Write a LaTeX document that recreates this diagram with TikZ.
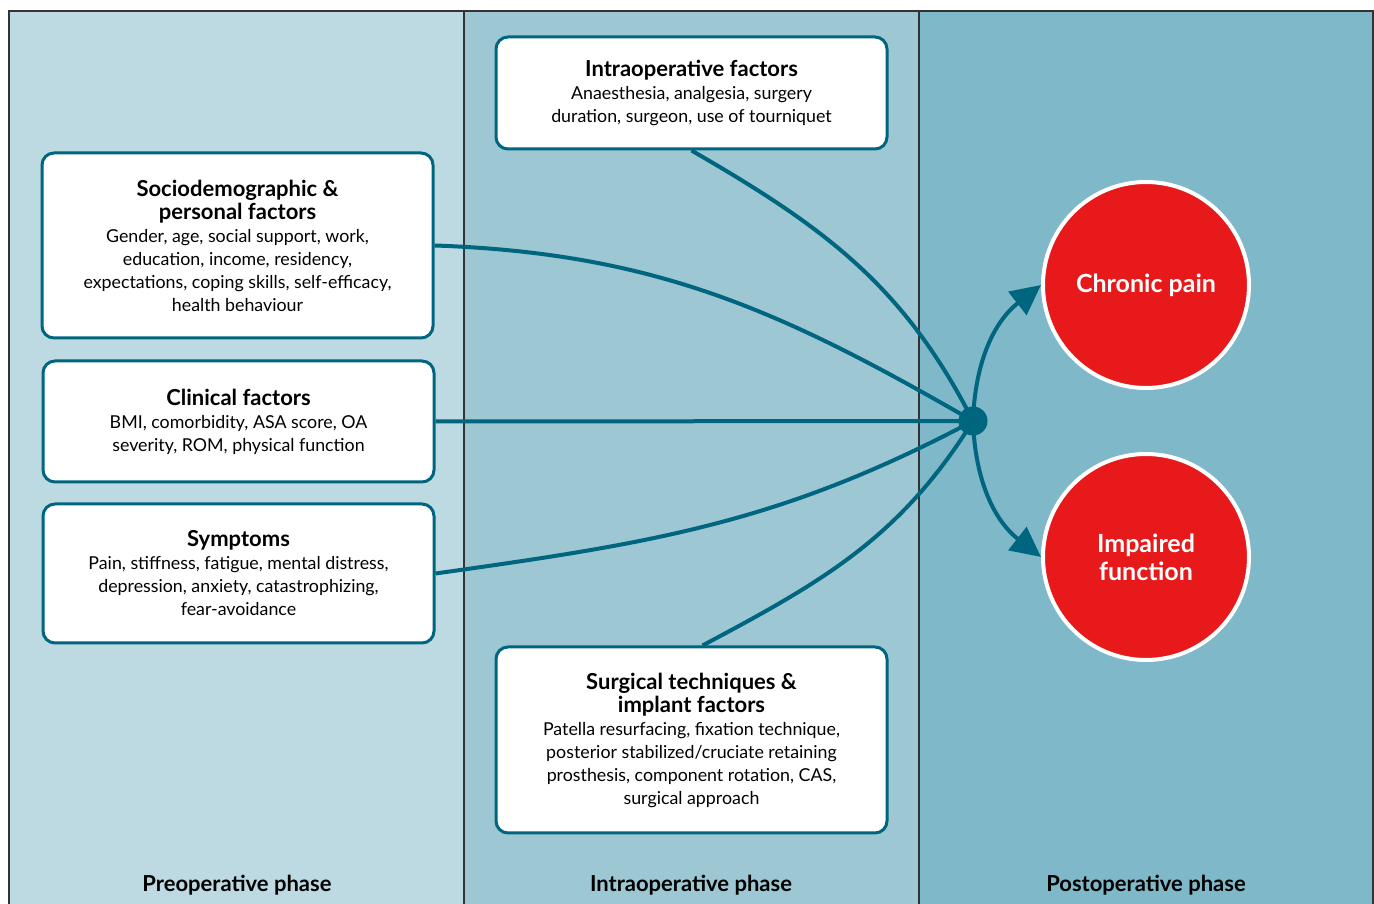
\documentclass[tikz,border=0pt]{standalone}
\usepackage{fontspec}
\setmainfont{Lato}
\usetikzlibrary{arrows.meta}
\definecolor{paneA}{HTML}{BDD9E1}
\definecolor{paneB}{HTML}{9DC7D2}
\definecolor{paneC}{HTML}{7EB8C9}
\definecolor{teal}{HTML}{006680}
\definecolor{outred}{HTML}{E8191A}
\newcommand{\bodyfont}{\fontsize{17.8}{23}\selectfont}
\newcommand{\ttl}[1]{{\fontsize{22}{24}\selectfont\bfseries #1}}
\tikzset{
  factor/.style={draw=teal, line width=3pt, fill=white, rounded corners=12pt,
    minimum width=391pt, align=center, inner sep=0pt, font=\bodyfont},
  outcome/.style={circle, draw=white, line width=4pt, fill=outred, minimum size=206pt,
    align=center, text=white, font=\fontsize{25}{28}\selectfont\bfseries, inner sep=0pt},
  link/.style={draw=teal, line width=4pt},
  hubdot/.style={circle, fill=teal, minimum size=29pt, inner sep=0pt},
  phase/.style={font=\fontsize{22}{24}\selectfont\bfseries},
  tip/.style={-{Triangle[length=30pt,width=29pt]}}
}
\begin{document}
\begin{tikzpicture}[x=1pt,y=1pt]
\useasboundingbox (0,0) rectangle (1374,904);
% panels
\fill[paneA] (9,0) rectangle (464,893);
\fill[paneB] (464,0) rectangle (919,893);
\fill[paneC] (919,0) rectangle (1373,893);
\draw[line width=1.2pt, black!80] (9,0) -- (9,893) -- (1373,893) -- (1373,0);
\draw[line width=1.2pt, black!80] (464,0) -- (464,893);
\draw[line width=1.2pt, black!80] (919,0) -- (919,893);
% phase labels
\node[phase] (p1) at (237,19) {Preoperative phase};
\node[phase] (p2) at (691,19) {Intraoperative phase};
\node[phase] (p3) at (1146,19) {Postoperative phase};
% factor boxes
\node[factor, minimum height=112pt] (intra) at (691.5,811)
  {\ttl{Intraoperative factors}\\Anaesthesia, analgesia, surgery\\duration, surgeon, use of tourniquet};
\node[factor, minimum height=185pt] (socio) at (237.5,658.5)
  {\ttl{Sociodemographic \&}\\\ttl{personal factors}\\Gender, age, social support, work,\\education, income, residency,\\expectations, coping skills, self-efficacy,\\health behaviour};
\node[factor, minimum height=121pt] (clin) at (238.5,482.5)
  {\ttl{Clinical factors}\\BMI, comorbidity, ASA score, OA\\severity, ROM, physical function};
\node[factor, minimum height=139pt] (symp) at (238.5,330.5)
  {\ttl{Symptoms}\\Pain, stiffness, fatigue, mental distress,\\depression, anxiety, catastrophizing,\\fear-avoidance};
\node[factor, minimum height=186pt] (surg) at (691.5,164)
  {\ttl{Surgical techniques \&}\\\ttl{implant factors}\\Patella resurfacing, fixation technique,\\posterior stabilized/cruciate retaining\\prosthesis, component rotation, CAS,\\surgical approach};
% outcomes
\node[outcome] (pain) at (1146,619) {Chronic pain};
\node[outcome] (func) at (1146,347) {Impaired\\function};
% hub
\node[hubdot] (hub) at (973,483) {};
% connectors
\draw[link] (intra.south) to[out=-30, in=117] (hub.center);
\draw[link] (socio.east) to[out=-2, in=150] (hub.center);
\draw[link] (clin.east) -- (hub.center);
\draw[link] (symp.east) to[out=8, in=-152] (hub.center);
\draw[link] ([xshift=11pt]surg.north) to[out=28, in=-122] (hub.center);
\draw[link, tip] (hub.center) to[out=88, in=-142] (pain.west);
\draw[link, tip] (hub.center) to[out=-88, in=142] (func.west);
\end{tikzpicture}
\end{document}
